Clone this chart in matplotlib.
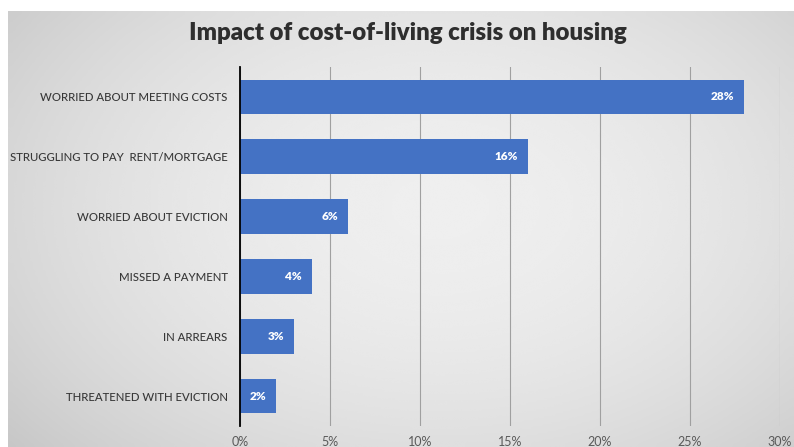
import numpy as np
import matplotlib.pyplot as plt

categories = [
    "WORRIED ABOUT MEETING COSTS",
    "STRUGGLING TO PAY  RENT/MORTGAGE",
    "WORRIED ABOUT EVICTION",
    "MISSED A PAYMENT",
    "IN ARREARS",
    "THREATENED WITH EVICTION",
]
values = [28, 16, 6, 4, 3, 2]
xticks = [0, 5, 10, 15, 20, 25, 30]
title = "Impact of cost-of-living crisis on housing"

W, H = 794, 447
fig = plt.figure(figsize=(W / 100, H / 100), dpi=100, facecolor="white")

# soft radial grey backdrop
bg = fig.add_axes([8 / W, 0, 1 - 8 / W, 1 - 11 / H])
bg.set_axis_off()
yy, xx = np.mgrid[0:1:200j, 0:1:300j]
r2 = ((xx - 0.55) / 0.75) ** 2 + ((yy - 0.45) / 0.9) ** 2
shade = 0.935 - 0.17 * r2
bg.imshow(shade, cmap="gray", vmin=0, vmax=1, aspect="auto",
          extent=[0, 1, 0, 1], interpolation="bicubic")

ax = fig.add_axes([240 / W, 1 - 426 / H, 540 / W, 359 / H])
ax.patch.set_alpha(0)

y = np.arange(len(categories))
ax.barh(y, values, height=0.58, color="#4472C4", zorder=3)
for yi, v in zip(y, values):
    ax.text(v - 0.55, yi, f"{v}%", ha="right", va="center", color="white",
            fontsize=8.5, fontweight="heavy", family="Lato", zorder=4)

ax.set_xlim(0, 30)
ax.set_ylim(len(categories) - 0.5, -0.5)
ax.set_yticks(y)
ax.set_yticklabels(categories, family="Lato", fontsize=8.2, color="#383838",
                   fontweight="medium")
ax.set_xticks(xticks)
ax.set_xticklabels([f"{t}%" for t in xticks], family="Lato", fontsize=9,
                   color="#595959")
ax.tick_params(axis="y", length=0, pad=9)
ax.tick_params(axis="x", length=0, pad=7)
ax.grid(axis="x", color="#a0a0a0", linewidth=0.8, zorder=1)
for s in ["top", "right", "bottom"]:
    ax.spines[s].set_visible(False)
ax.spines["left"].set_color("black")
ax.spines["left"].set_linewidth(1.3)
ax.spines["left"].set_zorder(5)

fig.text(408 / W, 1 - 33 / H, title, ha="center", va="center",
         fontsize=17.3, fontweight="heavy", family="Lato", color="#2e2e2e")

fig.savefig("out.png", dpi=100, facecolor="white")
